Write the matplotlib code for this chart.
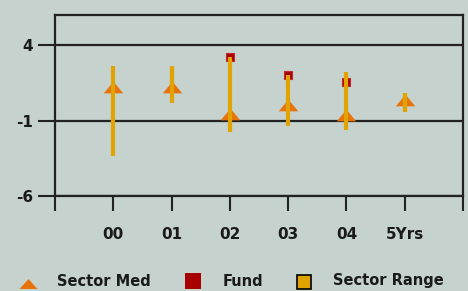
import numpy as np
import matplotlib
matplotlib.use("Agg")
import matplotlib.pyplot as plt
from matplotlib.lines import Line2D

# datos
periods = ["00", "01", "02", "03", "04", "5Yrs"]
sector_med = [1.2, 1.2, -0.55, 0.05, -0.65, 0.35]
range_hi = [2.65, 2.65, 3.2, 2.0, 2.25, 0.85]
range_lo = [-3.35, 0.15, -1.75, -1.35, -1.6, -0.45]
fund = [np.nan, np.nan, 3.2, 2.0, 1.55, np.nan]
y_ticks = [-6, -1, 4]

bg = "#c5d2cd"
c_range = "#e0a300"
c_med = "#e8730c"
c_fund = "#a80000"

fig = plt.figure(figsize=(4.68, 2.91), dpi=100, facecolor=bg)
ax = fig.add_axes([55 / 468, 1 - 196 / 291, 408 / 468, 181 / 291], facecolor=bg)

x = np.arange(1, len(periods) + 1)

# triangulo achatado para la mediana del sector
tri = [(-1, -0.6), (1, -0.6), (0, 0.6), (-1, -0.6)]
ax.plot(x, sector_med, linestyle="none", marker=tri, markersize=14,
        color=c_med, markeredgewidth=0, zorder=3)
ax.plot(x, fund, linestyle="none", marker="s", markersize=6,
        markerfacecolor=c_fund, markeredgecolor="#c42a2a", markeredgewidth=0.8, zorder=4)
ax.vlines(x, range_lo, range_hi, colors=c_range, linewidth=3, zorder=5)

ax.set_xlim(0, 7)
ax.set_ylim(-6, 6)
ax.set_yticks(y_ticks)
ax.set_yticklabels([str(v) for v in y_ticks], fontsize=11, fontweight="bold", color="#1a1a1a")
ax.set_xticks(np.arange(0, 8))
ax.set_xticklabels([""] + periods + [""], fontsize=11, fontweight="bold", color="#1a1a1a")
ax.tick_params(axis="y", length=12, width=1.5, pad=4, color="#222222")
ax.tick_params(axis="x", length=11, width=1.5, pad=11, color="#222222")
ax.yaxis.grid(True, color="#222222", linewidth=1.6, zorder=2)
ax.set_axisbelow(False)
for s in ax.spines.values():
    s.set_linewidth(1.6)
    s.set_color("#222222")
    s.set_zorder(2)

# leyenda manual abajo
ty = 1 - 281 / 291
fig.add_artist(Line2D([28 / 468], [1 - 284 / 291], transform=fig.transFigure,
                      marker=[(-1, -0.5), (1, -0.5), (0, 0.6), (-1, -0.5)], markersize=13,
                      color=c_med, markeredgewidth=0, linestyle="none"))
fig.add_artist(Line2D([193 / 468], [1 - 281 / 291], transform=fig.transFigure,
                      marker="s", markersize=12, color=c_fund, markeredgewidth=0, linestyle="none"))
fig.add_artist(Line2D([304 / 468], [1 - 282 / 291], transform=fig.transFigure,
                      marker="s", markersize=10, markerfacecolor=c_range, markeredgecolor="black",
                      markeredgewidth=1.2, linestyle="none"))
for tx, label in [(57, "Sector Med"), (223, "Fund"), (333, "Sector Range")]:
    fig.text(tx / 468, ty, label, fontsize=10.5, fontweight="bold", va="center", ha="left", color="#1a1a1a")

fig.savefig("out.png", dpi=100, facecolor=bg)
